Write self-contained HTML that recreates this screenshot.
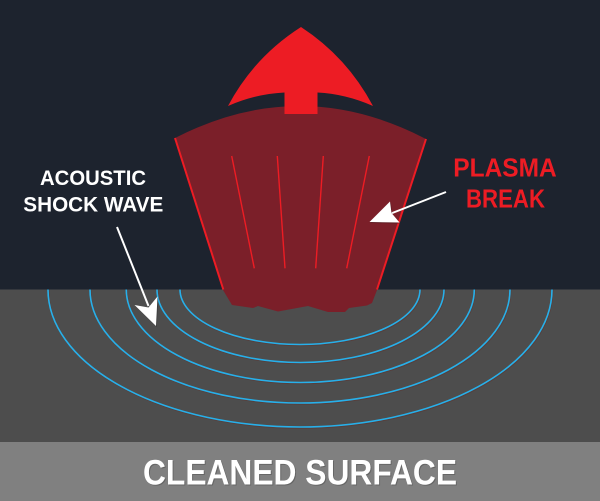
<!DOCTYPE html>
<html>
<head>
<meta charset="utf-8">
<style>
  html, body { margin:0; padding:0; background:#1d232e; }
  body { width:600px; height:501px; overflow:hidden; }
  svg { display:block; }
  text { font-family: "Liberation Sans", Arial, sans-serif; }
</style>
</head>
<body>
<svg width="600" height="501" viewBox="0 0 600 501" xmlns="http://www.w3.org/2000/svg">
  <defs>
    <clipPath id="ground">
      <rect x="0" y="289.5" width="600" height="152.5"/>
    </clipPath>
  </defs>

  <!-- background -->
  <rect x="0" y="0" width="600" height="501" fill="#1d232e"/>
  <!-- ground -->
  <rect x="0" y="289.5" width="600" height="152.5" fill="#4d4d4d"/>
  <!-- bottom band -->
  <rect x="0" y="442" width="600" height="59" fill="#808080"/>

  <!-- shock wave ellipses -->
  <g clip-path="url(#ground)" fill="none">
    <g stroke="#5a3a36" stroke-width="1.6" transform="translate(0.6,1)" opacity="0.7">
      <ellipse cx="300" cy="289.5" rx="120" ry="55"/>
      <ellipse cx="300.5" cy="289.5" rx="143.5" ry="73"/>
      <ellipse cx="300.3" cy="289.5" rx="174" ry="93"/>
      <ellipse cx="300" cy="289.5" rx="210" ry="113.5"/>
      <ellipse cx="300" cy="289.5" rx="252" ry="137.5"/>
    </g>
    <g stroke="#27b0ea" stroke-width="1.6">
      <ellipse cx="300" cy="289.5" rx="120" ry="55"/>
      <ellipse cx="300.5" cy="289.5" rx="143.5" ry="73"/>
      <ellipse cx="300.3" cy="289.5" rx="174" ry="93"/>
      <ellipse cx="300" cy="289.5" rx="210" ry="113.5"/>
      <ellipse cx="300" cy="289.5" rx="252" ry="137.5"/>
    </g>
  </g>

  <!-- plasma body -->
  <path d="M175,138 Q300.5,73.5 426,139 L377,290 L372,303 L367,305.5 L349,308 L345,312 L328,312 L308,306 L278,311.5 L258,306 L253,308 L232,305 L223,290 Z"
        fill="#7b1f29"/>
  <!-- bright side edges -->
  <line x1="175" y1="138" x2="223.3" y2="289.5" stroke="#ed1c24" stroke-width="2"/>
  <line x1="426" y1="139" x2="377" y2="289.5" stroke="#ed1c24" stroke-width="2"/>
  <!-- inner streaks -->
  <g stroke="#ed1c24" stroke-width="1.4">
    <line x1="231.7" y1="156" x2="254.3" y2="268.3"/>
    <line x1="277.3" y1="156" x2="285" y2="268.3"/>
    <line x1="323.3" y1="156" x2="315.7" y2="268.3"/>
    <line x1="369.3" y1="156" x2="346.7" y2="268.3"/>
  </g>

  <!-- top red arrow -->
  <path d="M301,27 Q347,57 373,106 Q346,94 317.5,92.5 L317.5,114 L284.5,114 L284.5,92.5 Q255,94 228,106 Q254,57 301,27 Z"
        fill="#ed1c24"/>

  <!-- plasma pointer arrow -->
  <line x1="446" y1="192" x2="391" y2="213.5" stroke="#ffffff" stroke-width="2"/>
  <path d="M369.5,222 L390,201.5 L391.5,213 L399.5,222.5 Z" fill="#3a1418" opacity="0.5" transform="translate(0.8,1)"/>
  <path d="M369.5,222 L390,201.5 L391.5,213 L399.5,222.5 Z" fill="#ffffff"/>

  <!-- acoustic pointer arrow -->
  <line x1="117" y1="227" x2="148.5" y2="306" stroke="#ffffff" stroke-width="2"/>
  <path d="M156,326 L134.5,305 L148.5,307.5 L157.5,296.5 Z" fill="#222" opacity="0.4" transform="translate(0.8,1)"/>
  <path d="M156,326 L134.5,305 L148.5,307.5 L157.5,296.5 Z" fill="#ffffff"/>

  <!-- labels -->
  <text x="40" y="185" font-size="21" font-weight="bold" fill="#ffffff" textLength="106" lengthAdjust="spacingAndGlyphs">ACOUSTIC</text>
  <text x="23.3" y="211.7" font-size="21" font-weight="bold" fill="#ffffff" textLength="140" lengthAdjust="spacingAndGlyphs">SHOCK WAVE</text>

  <text x="453.3" y="176.7" font-size="25.5" font-weight="bold" fill="#ed1c24" textLength="103.4" lengthAdjust="spacingAndGlyphs">PLASMA</text>
  <text x="466" y="207.7" font-size="25.5" font-weight="bold" fill="#ed1c24" textLength="79" lengthAdjust="spacingAndGlyphs">BREAK</text>

  <text x="144" y="485.5" font-size="35" font-weight="bold" fill="#555555" opacity="0.6" textLength="314" lengthAdjust="spacingAndGlyphs">CLEANED SURFACE</text>
  <text x="143" y="484.3" font-size="35" font-weight="bold" fill="#ffffff" textLength="314" lengthAdjust="spacingAndGlyphs">CLEANED SURFACE</text>
</svg>
</body>
</html>
